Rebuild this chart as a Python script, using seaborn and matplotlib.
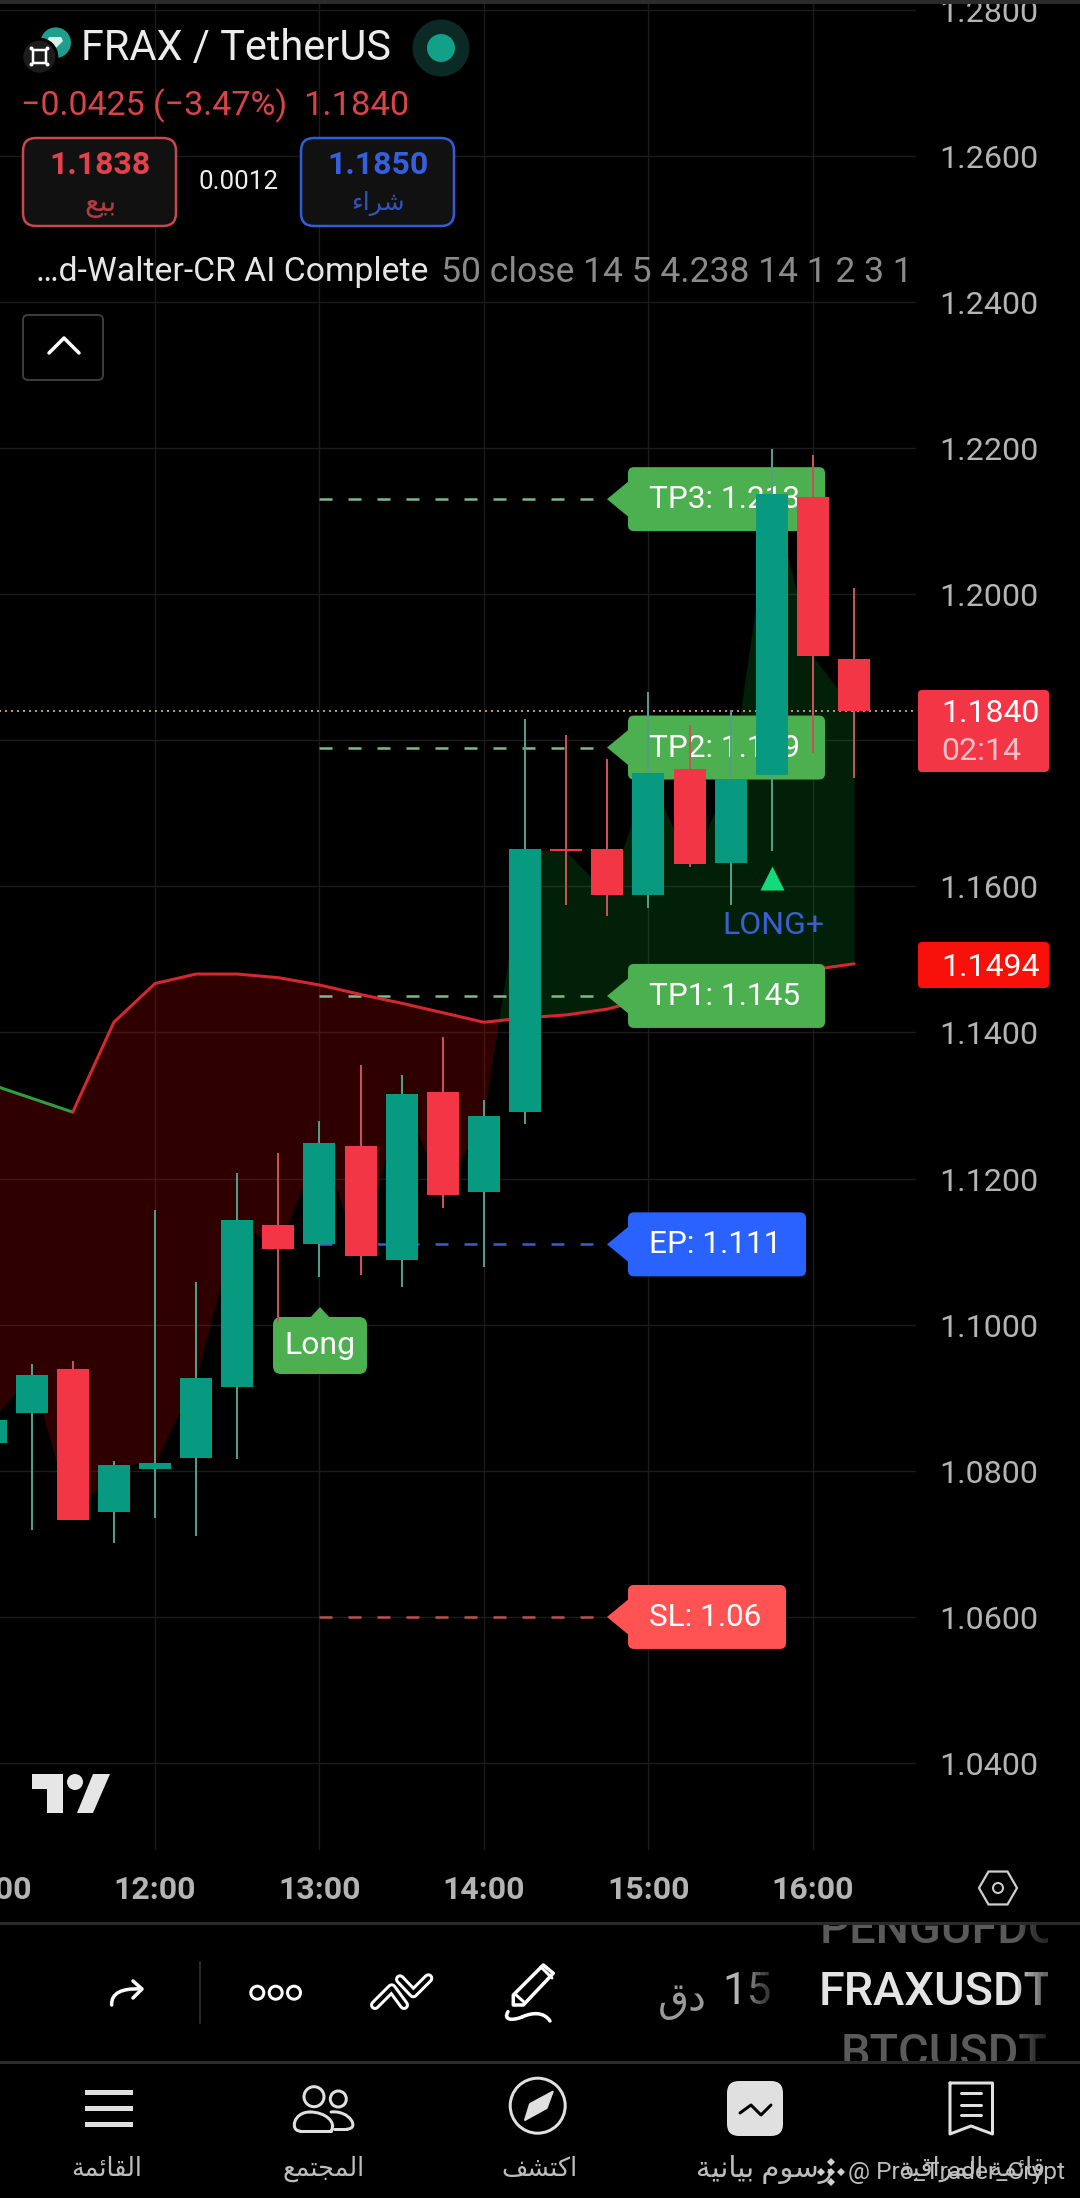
# FRAX / TetherUS 15 min chart, phone screenshot of TradingView
import numpy as np
import pandas as pd
import seaborn as sns
import matplotlib
matplotlib.use("Agg")
import matplotlib.pyplot as plt
from matplotlib.patches import Circle, FancyBboxPatch, PathPatch, Polygon, Rectangle, RegularPolygon
from matplotlib.path import Path
from matplotlib.transforms import Affine2D, Bbox

# candles, time in hours of the day
candle_times = [11.00, 11.25, 11.50, 11.75, 12.00, 12.25, 12.50, 12.75, 13.00, 13.25, 13.50,
                13.75, 14.00, 14.25, 14.50, 14.75, 15.00, 15.25, 15.50, 15.75, 16.00, 16.25]
opens = [1.0838, 1.0879, 1.0939, 1.0744, 1.0803, 1.0818, 1.0915, 1.1137, 1.1111, 1.1245, 1.1089,
         1.1319, 1.1181, 1.1291, 1.1651, 1.1651, 1.1588, 1.1760, 1.1632, 1.1753, 1.2133, 1.1911]
highs = [1.0900, 1.0946, 1.0951, 1.0814, 1.1157, 1.1059, 1.1207, 1.1235, 1.1279, 1.1355, 1.1342,
         1.1394, 1.1307, 1.1829, 1.1807, 1.1774, 1.1866, 1.1821, 1.1841, 1.2198, 1.2191, 1.2008]
lows = [1.0800, 1.0719, 1.0733, 1.0701, 1.0735, 1.0711, 1.0816, 1.1004, 1.1065, 1.1068, 1.1052,
        1.1160, 1.1079, 1.1275, 1.1574, 1.1559, 1.1570, 1.1626, 1.1575, 1.1648, 1.1782, 1.1749]
closes = [1.0869, 1.0931, 1.0733, 1.0808, 1.0811, 1.0927, 1.1143, 1.1103, 1.1249, 1.1094, 1.1316,
          1.1177, 1.1286, 1.1651, 1.1648, 1.1588, 1.1755, 1.1630, 1.1747, 1.2137, 1.1915, 1.1840]
band = [1.1329, 1.1310, 1.1291, 1.1414, 1.1467, 1.1480, 1.1480, 1.1475, 1.1465, 1.1452, 1.1440,
        1.1427, 1.1414, 1.1420, 1.1424, 1.1432, 1.1447, 1.1460, 1.1470, 1.1478, 1.1486, 1.1494]

price_ticks = [1.04, 1.06, 1.08, 1.10, 1.12, 1.14, 1.16, 1.18, 1.20, 1.22, 1.24, 1.26, 1.28]
price_labels = ["1.0400", "1.0600", "1.0800", "1.1000", "1.1200", "1.1400", "1.1600", "",
                "1.2000", "1.2200", "1.2400", "1.2600", "1.2800"]
hour_ticks = [11, 12, 13, 14, 15, 16]
hour_labels = ["11:00", "12:00", "13:00", "14:00", "15:00", "16:00"]

last_price = 1.1840
entry_time = 13.0
signal_time = 15.75
signal_price = 1.1612
level_names = ["TP3: 1.213", "TP2: 1.179", "TP1: 1.145", "EP: 1.111", "SL: 1.06"]
level_values = [1.213, 1.179, 1.145, 1.111, 1.06]

GREEN = "#089981"
RED = "#f23645"
LABEL_GREEN = "#4caf50"
W, H = 1080, 2198

# arabic strings in visual order with presentation forms, matplotlib does not shape text
AR_SELL = "\ufeca\ufef4\ufe91"
AR_BUY = "\ufe80\ufe8d\ufeae\ufeb7"
AR_MIN = "\ufed5\ufea9"
AR_MENU = "\ufe94\ufee4\ufe8b\ufe8e\ufed8\ufedf\ufe8d"
AR_COMMUNITY = "\ufeca\ufee4\ufe98\ufea0\ufee4\ufedf\ufe8d"
AR_EXPLORE = "\ufed2\ufeb8\ufe98\ufedb\ufe8d"
AR_CHARTS = "\ufe94\ufef4\ufee7\ufe8e\ufef4\ufe91 \ufee1\ufeee\ufeb3\ufead"
AR_WATCHLIST = "\ufe94\ufe92\ufed7\ufe8d\ufeae\ufee4\ufedf\ufe8d \ufe94\ufee4\ufe8b\ufe8e\ufed7"

sns.set_theme(style="dark", rc={"axes.facecolor": "black", "figure.facecolor": "black",
                                "savefig.facecolor": "black", "axes.grid": True,
                                "grid.color": "#1b1b1b", "grid.linewidth": 1.0})
plt.rcParams["font.family"] = ["Roboto", "DejaVu Sans"]

df = pd.DataFrame({"time": candle_times, "open": opens, "high": highs, "low": lows,
                   "close": closes, "band": band})
df["up"] = df["close"] >= df["open"]

fig = plt.figure(figsize=(W / 100, H / 100), dpi=100)
# axes run a little past the left edge so the 11:00 label gets cut like in the app
ax = fig.add_axes([-20 / W, (H - 1850) / H, 936 / W, 1850 / H])
ax.set_xlim(12 - 175 / 164.5, 12 + 761 / 164.5)
ax.set_ylim(1.22 - 1402 / 7306, 1.22 + 448 / 7306)
ax.set_axisbelow(True)
for s in ax.spines.values():
    s.set_visible(False)

px = Affine2D().scale(1, -1).translate(0, H)  # screen pixels, y down


def py(price):
    return H - ax.transData.transform((12, price))[1]


def tx(x, y, s, size, color, ha="center", va="center", weight="normal", z=30, clip=None):
    t = ax.text(x, y, s, transform=px, fontsize=size * 0.72, color=color, ha=ha, va=va,
                fontweight=weight, zorder=z, clip_on=clip is not None)
    if clip is not None:
        x0, y0, x1, y1 = clip
        t.set_clip_box(Bbox([[x0, H - y1], [x1, H - y0]]))
    return t


def rbox(x0, y0, x1, y1, r, fc, ec="none", lw=0, z=20):
    p = FancyBboxPatch((x0 + r, y0 + r), x1 - x0 - 2 * r, y1 - y0 - 2 * r,
                       boxstyle=f"round,pad={r},rounding_size={r}", fc=fc, ec=ec,
                       lw=lw * 0.72, transform=px, zorder=z, clip_on=False)
    ax.add_patch(p)


def stroke(points, color, lw, z=30, closed=False):
    xs, ys = zip(*points)
    if closed:
        xs, ys = xs + xs[:1], ys + ys[:1]
    ax.plot(xs, ys, color=color, lw=lw * 0.72, transform=px, zorder=z, clip_on=False,
            solid_capstyle="round", solid_joinstyle="round")


def curve(verts, color, lw, z=30, fc="none"):
    codes = [Path.MOVETO] + [Path.CURVE4] * (len(verts) - 1)
    ax.add_patch(PathPatch(Path(verts, codes), fc=fc, ec=color, lw=lw * 0.72, transform=px,
                           zorder=z, clip_on=False, capstyle="round"))


def disc(x, y, r, fc, ec="none", lw=0, z=30):
    ax.add_patch(Circle((x, y), r, fc=fc, ec=ec, lw=lw * 0.72, transform=px, zorder=z, clip_on=False))


def poly(points, fc, ec="none", lw=0, z=30):
    ax.add_patch(Polygon(points, closed=True, fc=fc, ec=ec, lw=lw * 0.72, transform=px, zorder=z,
                         clip_on=False, joinstyle="round"))


# fill between close and the band
t, c, b = df["time"].values, df["close"].values, df["band"].values
ax.fill_between(t, c, b, where=c < b, interpolate=True, color="#ff0000", alpha=0.19, lw=0, zorder=1)
ax.fill_between(t, c, b, where=c >= b, interpolate=True, color="#10ff40", alpha=0.125, lw=0, zorder=1)

# band line, green until the 11:30 flip
sns.lineplot(data=df[df["time"] <= 11.5], x="time", y="band", color="#2e9e40", linewidth=2.2,
             estimator=None, sort=False, legend=False, ax=ax, zorder=3)
sns.lineplot(data=df[df["time"] >= 11.5], x="time", y="band", color="#d3282f", linewidth=2.2,
             estimator=None, sort=False, legend=False, ax=ax, zorder=3)

ax.set_xlabel("")
ax.set_ylabel("")
ax.set_xlim(12 - 175 / 164.5, 12 + 761 / 164.5)
ax.set_ylim(1.22 - 1402 / 7306, 1.22 + 448 / 7306)

# axes ticks
ax.yaxis.tick_right()
ax.set_yticks(price_ticks)
ax.set_yticklabels(price_labels)
ax.set_xticks(hour_ticks)
ax.set_xticklabels(hour_labels, fontweight="semibold")
ax.tick_params(axis="y", length=0, pad=16.6, labelsize=23.2, labelcolor="#b4b4b4")
ax.tick_params(axis="x", length=0, pad=18, labelsize=23, labelcolor="#b4b4b4")
ax.grid(True, color="#1b1b1b", lw=1.0)
for lab in ax.get_yticklabels():
    lab.set_transform(lab.get_transform() + Affine2D().translate(0, -0.5))

# level lines and their labels
level_colors = [LABEL_GREEN, LABEL_GREEN, LABEL_GREEN, "#2962ff", "#ff5252"]
dash_colors = ["#7fb98a", "#7fb98a", "#7fb98a", "#3a5fc8", "#c05050"]
label_ends = [825, 825, 825, 806, 786]
for name, val, col, dcol, x1 in zip(level_names, level_values, level_colors, dash_colors, label_ends):
    ax.plot([entry_time, 14.72], [val, val], color=dcol, lw=1.8, ls=(0, (5.2, 6.4)), zorder=2)
    y = py(val)
    rbox(628, y - 32, x1, y + 32, 6, col, z=4)
    poly([(630, y - 19), (607, y), (630, y + 19)], col, z=4)
    tx(649, y + 0.5, name, 31.5, "white", ha="left", z=5)

ax.axhline(last_price, color="#c98a7a", lw=1.44, ls=(0, (1, 2)), zorder=2.5)

# candles
wick_colors = df["up"].map({True: "#4f9d8a", False: "#c9515c"})
ax.vlines(df["time"], df["low"], df["high"], colors=wick_colors, lw=1.44, zorder=6)
ax.bar(df["time"], (df["close"] - df["open"]).abs().clip(lower=0.0003),
       bottom=df[["open", "close"]].min(axis=1), width=32 / 164.5,
       color=df["up"].map({True: GREEN, False: RED}), lw=0, zorder=7)

# signal marker
sns.scatterplot(x=[signal_time], y=[signal_price], marker="^", s=300, color="#12dc7a", linewidth=0,
                legend=False, ax=ax, zorder=8)
ax.set_xlabel("")
ax.set_ylabel("")
tx(773, 925, "LONG+", 32, "#3a5fd0", z=8)

# Long flag under the 12:45 to 13:00 candles
rbox(273, 1317, 367, 1374, 8, LABEL_GREEN, z=5)
poly([(309, 1319), (320, 1307), (331, 1319)], LABEL_GREEN, z=5)
tx(320, 1345, "Long", 32, "white", z=8)

# right side price boxes
rbox(918, 690, 1049, 772, 4, RED)
tx(941, 714, "1.1840", 32, "white", ha="left", z=21)
tx(941, 751, "02:14", 32, "#f6c2c7", ha="left", z=21)
rbox(918, 942, 1049, 988, 4, "#f7110a")
tx(941, 967, "1.1494", 32, "white", ha="left", z=21)

# top line
ax.add_patch(Rectangle((0, 0), W, 4, fc="#2b2b2b", ec="none", transform=px, zorder=20, clip_on=False))

# logos
disc(55.7, 42.7, 15.3, "#1f9d8d")
poly([(49, 37), (61, 37), (63, 41), (55, 49), (47, 41)], "#d8f0ea", z=31)
disc(39.3, 56.7, 19, "black", z=32)
disc(39.3, 56.7, 16, "#1c1c1c", z=33)
stroke([(33, 50), (46, 50), (46, 63), (33, 63)], "white", 2.5, z=34, closed=True)
for dx, dy in [(-8, -8), (8, -8), (-8, 8), (8, 8)]:
    disc(39.5 + dx, 56.5 + dy, 2, "white", z=34)

tx(81, 48.5, "FRAX / TetherUS", 41.5, "#ececec", ha="left")
disc(441, 48, 28.5, "#0c2a25")
disc(441, 48, 14, "#12a088", z=31)

tx(21, 106, "\u22120.0425 (\u22123.47%)", 34, "#d9434a", ha="left")
tx(303, 106, "1.1840", 34.5, "#d9434a", ha="left")

# bid and ask boxes
rbox(23, 138, 176, 226, 13, "#111111", "#c9474d", 2.5)
tx(100, 165, "1.1838", 32, "#e0434b", weight="bold", z=31)
tx(100, 204, AR_SELL, 29, "#b23a40", z=31)
tx(239, 182, "0.0012", 26, "#eeeeee")
rbox(301, 138, 454, 226, 13, "#111111", "#2f5fd8", 2.5)
tx(378, 165, "1.1850", 32, "#3560dc", weight="bold", z=31)
tx(378, 203, AR_BUY, 25, "#2f55bd", z=31)

tx(36, 272, "\u2026d-Walter-CR AI Complete", 33.8, "#e6e6e6", ha="left")
tx(441, 272, "50 close 14 5 4.238 14 1 2 3 1", 35.5, "#8a8a8a", ha="left")

rbox(23, 315, 103, 380, 5, "black", "#3c3c3c", 2)
stroke([(49, 353), (64, 338), (79, 353)], "white", 3.5)

# tradingview mark
poly([(32, 1774), (63, 1774), (63, 1813), (47, 1813), (47, 1789), (32, 1789)], "#e6e6e6", z=20)
disc(75, 1782, 8, "#e6e6e6", z=20)
poly([(93, 1774), (110, 1774), (93, 1813), (77, 1813)], "#e6e6e6", z=20)

# settings hexagon on the time scale
ax.add_patch(RegularPolygon((998, 1888), 6, radius=19, orientation=np.pi / 6, fc="none", ec="#cfcfcf",
                            lw=1.6, transform=px, zorder=30, clip_on=False))
disc(998, 1888, 5, "none", "#cfcfcf", 2)

# separators
for y0 in [1922, 2061]:
    ax.add_patch(Rectangle((0, y0), W, 3, fc="#2b2b2b", ec="none", transform=px, zorder=20, clip_on=False))

# toolbar, symbol wheel
tx(820, 1930, "PENGUFDC", 47, "#5a5a5a", ha="left", weight="medium", clip=(0, 1925, 1048, 2198))
tx(819, 1992, "FRAXUSDT", 47, "#e4e4e4", ha="left", weight="medium", clip=(0, 1925, 1048, 2198))
tx(1048, 2054, "BTCUSDT", 47, "#5a5a5a", ha="right", weight="medium", clip=(0, 1925, 1048, 2061))
for i in range(6):
    ax.add_patch(Rectangle((1018 + i * 5, 1925), 30 - i * 5, 136, fc="black", alpha=0.12, ec="none",
                           transform=px, zorder=31, clip_on=False))

tx(722, 1992, "15", 44, "#b5b5b5", ha="left")
tx(682, 2000, AR_MIN, 40, "#9a9a9a")
for i in range(6):
    ax.add_patch(Rectangle((745 + i * 5, 1965), 30 - i * 5, 55, fc="black", alpha=0.2, ec="none",
                           transform=px, zorder=31, clip_on=False))

# toolbar icons
curve([(111.7, 2005), (111, 1993), (122, 1988), (141, 1989)], "white", 3.5)
stroke([(133, 1981), (142, 1989), (133, 1998)], "white", 3.5)
stroke([(200, 1962), (200, 2023)], "#2b2b2b", 2)
for cx in [257.3, 275.7, 294]:
    disc(cx, 1992.7, 6.5, "none", "white", 3)
stroke([(375, 2005), (391.7, 1988.3), (404, 2005)], "white", 10)
stroke([(375, 2005), (391.7, 1988.3), (404, 2005)], "black", 4, z=31)
stroke([(400, 1979.3), (413.3, 1993.3), (428.3, 1978.3)], "white", 10, z=32)
stroke([(400, 1979.3), (413.3, 1993.3), (428.3, 1978.3)], "black", 4, z=33)
poly([(513.3, 1995), (543.3, 1965), (553.3, 1973.3), (523.3, 2005), (513.3, 2005)], "none", "white", 3.5)
stroke([(515, 1994), (525, 2003)], "white", 3)
stroke([(541, 1967), (552, 1978)], "white", 3)
curve([(508, 2011.7), (503, 2020), (512, 2021), (522, 2017)], "white", 3.5)
curve([(522, 2017), (533, 2012), (544, 2012), (550, 2021)], "white", 3.5)

# bottom navigation
NAV = "#e0e0e0"
for y0 in [2092, 2108, 2124]:
    ax.add_patch(Rectangle((85, y0 - 2.5), 48, 5, fc=NAV, ec="none", transform=px, zorder=30, clip_on=False))
disc(314, 2096.7, 10, "none", NAV, 3)
disc(338.3, 2099, 8, "none", NAV, 3)
curve([(300, 2131), (290, 2131), (293, 2112), (310, 2112)], NAV, 3)
curve([(310, 2112), (325, 2112), (337, 2122), (331, 2131)], NAV, 3)
stroke([(300, 2131), (331, 2131)], NAV, 3)
curve([(331, 2112), (350, 2110), (360, 2129), (347, 2129)], NAV, 3)
stroke([(334, 2129), (347, 2129)], NAV, 3)
disc(537.7, 2105.7, 27.5, "none", NAV, 3)
poly([(552.7, 2091.7), (546.7, 2108), (525, 2120), (530, 2104)], NAV, NAV, 2)
rbox(727, 2081, 783, 2136, 12, NAV, z=30)
stroke([(740, 2113), (751, 2105), (761, 2115), (771, 2105)], "black", 3, z=31)
stroke([(950, 2083), (992.5, 2083), (992.5, 2134), (971, 2126), (950, 2134)], NAV, 3, closed=True)
for y0 in [2093, 2105, 2115]:
    stroke([(961, y0), (981, y0)], NAV, 3)

nav_names = [AR_MENU, AR_COMMUNITY, AR_EXPLORE, AR_CHARTS, AR_WATCHLIST]
nav_x = [107, 324, 539, 764, 972]
nav_sizes = [25.5, 25.5, 25.5, 29, 25.5]
for name, x, size in zip(nav_names, nav_x, nav_sizes):
    tx(x, 2169, name, size, "#bdbdbd")

# watermark over the nav labels
tx(848, 2173, "@ Pro_Trader_Crypt", 24.5, "#bdbdbd", ha="left", z=32)
for dx, dy in [(0, -10), (-10, 0), (10, 0), (0, 10), (0, 0)]:
    cx, cy = 831 + dx, 2172 + dy
    poly([(cx, cy - 4), (cx + 4, cy), (cx, cy + 4), (cx - 4, cy)], "#d0d0d0", z=32)

fig.savefig("out.png", dpi=100, facecolor="black")
